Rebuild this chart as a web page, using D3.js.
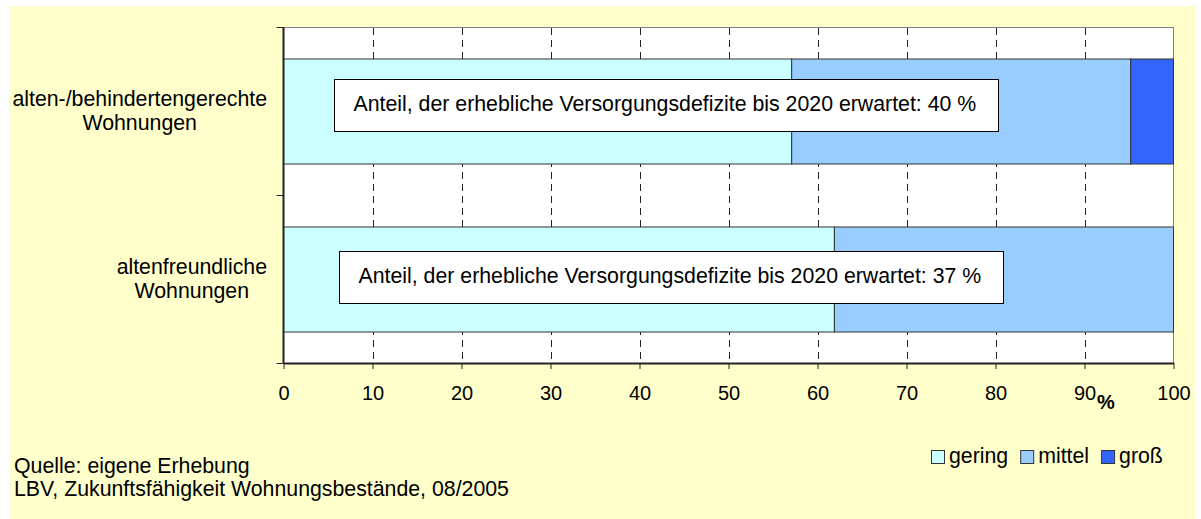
<!DOCTYPE html>
<html>
<head>
<meta charset="utf-8">
<script src="https://cdn.jsdelivr.net/npm/d3@7"></script>
<style>
  body { margin: 0; background: #fff; }
  text { font-family: "Liberation Sans", Arial, sans-serif; fill: #000; }
</style>
</head>
<body>
<svg id="chart"></svg>
<script>
// data
let categories = ["alten-/behindertengerechte Wohnungen", "altenfreundliche Wohnungen"]
let categoryLines = [["alten-/behindertengerechte", "Wohnungen"], ["altenfreundliche", "Wohnungen"]]
let seriesNames = ["gering", "mittel", "groß"]
let gering = [57.1, 61.9]
let mittel = [38.1, 38.1]
let gross = [4.8, 0]
let xTicks = [0, 10, 20, 30, 40, 50, 60, 70, 80, 90, 100]
let notes = [
    "Anteil, der erhebliche Versorgungsdefizite bis 2020 erwartet: 40 %",
    "Anteil, der erhebliche Versorgungsdefizite bis 2020 erwartet: 37 %"
]
let sourceLines = ["Quelle: eigene Erhebung", "LBV, Zukunftsfähigkeit Wohnungsbestände, 08/2005"]

let colors = ["#ccffff", "#99ccff", "#3366ff"]

let width = 1201
let height = 519
let plotLeft = 283.5
let plotRight = 1173.5
let plotTop = 27
let plotBottom = 363
let fontSize = "21.3px"

let svg = d3.select("#chart").attr("width", width).attr("height", height)

// background
svg.append("rect")
   .attr("x", 9).attr("y", 6)
   .attr("width", 1186).attr("height", 513)
   .attr("fill", "#ffffcc")

let xScale = d3.scaleLinear().domain([0, 100]).range([plotLeft, plotRight])

let yScale = d3.scaleBand()
               .domain(categories)
               .range([plotTop, plotBottom])
               .paddingInner(0.375)
               .paddingOuter(0.1875)

// plot area
svg.append("rect")
   .attr("x", plotLeft).attr("y", plotTop + 0.5)
   .attr("width", plotRight - plotLeft).attr("height", plotBottom - plotTop)
   .attr("fill", "#fff")
   .attr("stroke", "#808080")

// dashed grid lines
svg.append("g")
   .selectAll("line")
   .data(xTicks.slice(1, -1))
   .enter()
   .append("line")
   .attr("x1", (d) => Math.round(xScale(d)) + 0.5)
   .attr("x2", (d) => Math.round(xScale(d)) + 0.5)
   .attr("y1", plotTop + 1)
   .attr("y2", plotBottom)
   .attr("stroke", "#222")
   .attr("stroke-dasharray", "7,5")

// stacked bars
let rows = categories.map((c, i) => ({ cat: c, gering: gering[i], mittel: mittel[i], "groß": gross[i] }))
let stacked = d3.stack().keys(seriesNames)(rows)

svg.append("g")
   .selectAll("g")
   .data(stacked)
   .enter()
   .append("g")
   .attr("fill", (d, i) => colors[i])
   .selectAll("rect")
   .data((d) => d.filter((p) => p[1] - p[0] > 0))
   .enter()
   .append("rect")
   .attr("x", (d) => xScale(d[0]))
   .attr("y", (d) => yScale(d.data.cat) + 0.5)
   .attr("width", (d) => xScale(d[1]) - xScale(d[0]))
   .attr("height", yScale.bandwidth())
   .attr("stroke", "#333")
   .attr("stroke-width", 1)

// axes
let xAxis = svg.append("g")
   .attr("transform", "translate(0," + plotBottom + ")")
   .call(d3.axisBottom(xScale).tickValues(xTicks).tickSize(6).tickPadding(17).tickSizeOuter(0))
xAxis.select(".domain").attr("stroke", "#222").attr("stroke-width", 2)
xAxis.selectAll(".tick line").attr("stroke", "#222")
xAxis.selectAll(".tick text")
     .style("font-family", "'Liberation Sans', Arial, sans-serif")
     .style("font-size", "20px")
     .attr("fill", "#000")

let step = yScale.step()
let gapHalf = (step - yScale.bandwidth()) / 2
let bounds = [plotTop].concat(categories.map((c) => yScale(c) + yScale.bandwidth() + gapHalf))

svg.append("line")
   .attr("x1", plotLeft).attr("x2", plotLeft)
   .attr("y1", plotTop).attr("y2", plotBottom)
   .attr("stroke", "#222").attr("stroke-width", 2)

svg.append("g")
   .selectAll("line")
   .data(bounds)
   .enter()
   .append("line")
   .attr("x1", plotLeft - 7).attr("x2", plotLeft)
   .attr("y1", (d) => Math.round(d) + 0.5)
   .attr("y2", (d) => Math.round(d) + 0.5)
   .attr("stroke", "#222")

svg.append("text")
   .attr("x", 1106).attr("y", 409)
   .attr("text-anchor", "middle")
   .style("font-size", "20px")
   .style("font-weight", "bold")
   .text("%")

// category labels
categoryLines.forEach((lines, i) => {
    let cy = yScale(categories[i]) + yScale.bandwidth() / 2
    let g = svg.append("g")
    let texts = g.selectAll("text")
                 .data(lines)
                 .enter()
                 .append("text")
                 .attr("text-anchor", "middle")
                 .attr("y", (d, j) => cy - 5 + j * 24)
                 .style("font-size", fontSize)
                 .text((d) => d)
    let maxW = d3.max(texts.nodes(), (n) => n.getComputedTextLength())
    texts.attr("x", 267 - maxW / 2)
})

// note boxes
let noteStart = [5.7, 6.2]
let noteTop = [20, 24]
notes.forEach((note, i) => {
    let bx = Math.round(xScale(noteStart[i])) + 0.5
    let by = Math.round(yScale(categories[i]) + noteTop[i]) + 0.5
    svg.append("rect")
       .attr("x", bx).attr("y", by)
       .attr("width", 664).attr("height", 52)
       .attr("fill", "#fff")
       .attr("stroke", "#000")
    svg.append("text")
       .attr("x", bx + 19).attr("y", by + 31.5)
       .style("font-size", fontSize)
       .text(note)
})

// legend
let lx = 931
seriesNames.forEach((name, i) => {
    svg.append("rect")
       .attr("x", lx + 0.5).attr("y", 450.5)
       .attr("width", 13).attr("height", 13)
       .attr("fill", colors[i])
       .attr("stroke", "#333")
    let t = svg.append("text")
               .attr("x", lx + 18).attr("y", 463)
               .style("font-size", fontSize)
               .text(name)
    lx += 18 + t.node().getComputedTextLength() + 12
})

// source
svg.append("g")
   .selectAll("text")
   .data(sourceLines)
   .enter()
   .append("text")
   .attr("x", 14)
   .attr("y", (d, i) => 473 + i * 23)
   .style("font-size", fontSize)
   .text((d) => d)
</script>
</body>
</html>
